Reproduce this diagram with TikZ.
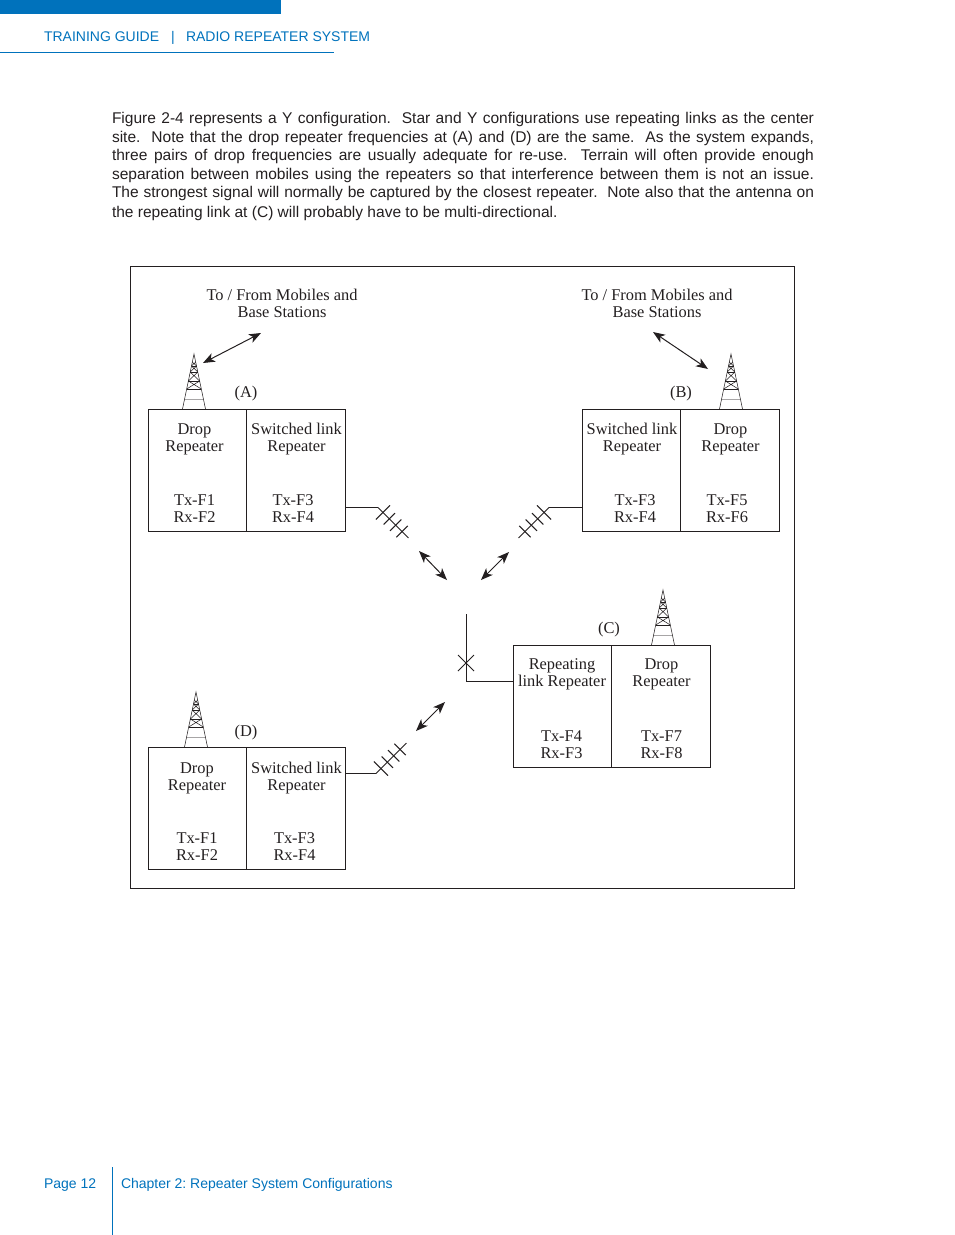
\documentclass[tikz,border=0pt]{standalone}
\usepackage{fontspec}
\setmainfont{Liberation Serif}
\newfontfamily\hsans{Liberation Sans}
\usetikzlibrary{arrows.meta}
\definecolor{ink}{HTML}{231F20}
\definecolor{brandblue}{HTML}{0072BC}
\frenchspacing
\tikzset{
  x=0.75pt,y=-0.75pt,
  every node/.style={inner sep=0pt,outer sep=0pt,text=ink},
  line/.style={draw=ink,line width=0.75pt},
  thinline/.style={draw=ink,line width=0.4pt},
  cellL/.style={line,rectangle,minimum width=73.1pt,minimum height=92pt},
  cellR/.style={line,rectangle,minimum width=74.6pt,minimum height=92pt},
  lbl/.style={font=\fontsize{12.3}{12.75}\selectfont,align=center},
  bodyline/.style={anchor=base west,font=\hsans\fontsize{11.65}{13}\selectfont},
  bluetext/.style={anchor=base west,text=brandblue,font=\hsans\fontsize{10.5}{13}\selectfont},
  dbl/.style={draw=ink,line width=0.75pt,{Stealth[length=9pt,width=7pt,inset=2.5pt]}-{Stealth[length=9pt,width=7pt,inset=2.5pt]}},
  tower/.pic={
    \draw[thinline] (-11.5,55) -- (0,0) -- (11.5,55);
    \draw[thinline] (-2.5,12) -- (2.5,12) (-3.8,18) -- (3.8,18) (-5.6,27) -- (5.6,27) (-7.3,35) -- (7.3,35);
    \draw[draw=ink!40,line width=0.6pt] (-9.4,45) -- (9.4,45);
    \draw[thinline] (-1.7,8) -- (2.5,12) (1.7,8) -- (-2.5,12) (-2.5,12) -- (3.8,18) (2.5,12) -- (-3.8,18) (-3.8,18) -- (5.6,27) (3.8,18) -- (-5.6,27) (-5.6,27) -- (7.3,35) (5.6,27) -- (-7.3,35);
  },
  yagi/.pic={
    \draw[line] (0,0) -- (43,0);
    \draw[line] (7,-10) -- (7,10);
    \foreach \t in {16,25,34} \draw[line] (\t,-8) -- (\t,8);
  },
}
\begin{document}
\begin{tikzpicture}
\useasboundingbox (0,0) rectangle (954,1235);
% page furniture
\fill[brandblue] (0,0) rectangle (281,14);
\draw[draw=brandblue,line width=0.75pt] (0,52.5) -- (334,52.5);
\draw[draw=brandblue,line width=0.75pt] (112.7,1167) -- (112.7,1235);
\node[bluetext] (h1) at (44,41) {TRAINING GUIDE};
\node[bluetext] (h2) at (171,41) {|};
\node[bluetext] (h3) at (186,41) {RADIO REPEATER SYSTEM};
\node[bluetext] (f1) at (44,1188) {Page 12};
\node[bluetext] (f2) at (121,1188) {Chapter 2: Repeater System Configurations};
% body text
\node[bodyline] (b1) at (112,123) {\makebox[526.5pt][s]{Figure 2-4 represents a Y configuration.\ \ Star and Y configurations use repeating links as the center}};
\node[bodyline] (b2) at (112,142) {\makebox[526.5pt][s]{site.\ \ Note that the drop repeater frequencies at (A) and (D) are the same.\ \ As the system expands,}};
\node[bodyline] (b3) at (112,160) {\makebox[526.5pt][s]{three pairs of drop frequencies are usually adequate for re-use.\ \ Terrain will often provide enough}};
\node[bodyline] (b4) at (112,179) {\makebox[526.5pt][s]{separation between mobiles using the repeaters so that interference between them is not an issue.}};
\node[bodyline] (b5) at (112,197.5) {\makebox[526.5pt][s]{The strongest signal will normally be captured by the closest repeater.\ \ Note also that the antenna on}};
\node[bodyline] (b6) at (112,217) {the repeating link at (C) will probably have to be multi-directional.};
% frame
\draw[line] (130.5,266.5) rectangle (794.5,888.5);
% boxes
\node[cellL] (A1) at (197.55,470.65) {};
\node[cellR] (A2) at (296.05,470.65) {};
\node[cellL] (B1) at (631.55,470.65) {};
\node[cellR] (B2) at (730.05,470.65) {};
\node[cellL] (C1) at (562.55,706.65) {};
\node[cellR] (C2) at (661.05,706.65) {};
\node[cellL] (D1) at (197.55,808.65) {};
\node[cellR] (D2) at (296.05,808.65) {};
% captions
\node[lbl] (t1) at (282,303.8) {To / From Mobiles and\\Base Stations};
\node[lbl] (t2) at (657,303.8) {To / From Mobiles and\\Base Stations};
\node[lbl] (la) at (246,393.7) {(A)};
\node[lbl] (lb) at (681,393.7) {(B)};
\node[lbl] (lc) at (609,629.7) {(C)};
\node[lbl] (ld) at (246,732.7) {(D)};
% A
\node[lbl] (a1) at (194.5,439.2) {Drop\\Repeater};
\node[lbl] (a2) at (296.5,439.2) {Switched link\\Repeater};
\node[lbl] (a3) at (194.5,508.5) {Tx-F1\\Rx-F2};
\node[lbl] (a4) at (293,508.5) {Tx-F3\\Rx-F4};
% B
\node[lbl] (b7) at (632,439.2) {Switched link\\Repeater};
\node[lbl] (b8) at (730.5,439.2) {Drop\\Repeater};
\node[lbl] (b9) at (635,508.5) {Tx-F3\\Rx-F4};
\node[lbl] (b10) at (727,508.5) {Tx-F5\\Rx-F6};
% C
\node[lbl] (c1) at (562,674.2) {Repeating\\link Repeater};
\node[lbl] (c2) at (661.5,674.2) {Drop\\Repeater};
\node[lbl] (c3) at (561.5,744.5) {Tx-F4\\Rx-F3};
\node[lbl] (c4) at (661.5,744.5) {Tx-F7\\Rx-F8};
% D
\node[lbl] (d1) at (197,778.2) {Drop\\Repeater};
\node[lbl] (d2) at (296.5,778.2) {Switched link\\Repeater};
\node[lbl] (d3) at (197,846.5) {Tx-F1\\Rx-F2};
\node[lbl] (d4) at (294.5,846.5) {Tx-F3\\Rx-F4};
% towers
\pic at (194,354) {tower};
\pic at (731,354) {tower};
\pic at (663,590) {tower};
\pic at (196,692) {tower};
% yagi antennas and feed lines
\coordinate (ya) at (378,507.5);
\coordinate (yb) at (549,507.5);
\coordinate (yd) at (376,773.5);
\draw[line] (A2.east |- ya) -- (ya);
\draw[line] (B1.west |- yb) -- (yb);
\draw[line] (D2.east |- yd) -- (yd);
\pic[rotate=-45] at (ya) {yagi};
\pic[rotate=-135] at (yb) {yagi};
\pic[rotate=45] at (yd) {yagi};
% repeating link antenna
\coordinate (ctop) at (466.5,614);
\coordinate (cx) at (466,663);
\coordinate (cbend) at (466.5,681.5);
\draw[line] (ctop) -- (cbend) -- (C1.west |- cbend);
\draw[line] (cx) ++(-8,-8) -- ++(16,16);
\draw[line] (cx) ++(8,-8) -- ++(-16,16);
% radio path arrows
\coordinate (p1) at (203,363); \coordinate (p2) at (261,333);
\coordinate (p3) at (653,332); \coordinate (p4) at (708,369);
\coordinate (p5) at (419,551); \coordinate (p6) at (447,580);
\coordinate (p7) at (509,552); \coordinate (p8) at (481,580);
\coordinate (p9) at (445,702); \coordinate (p10) at (416,731);
\draw[dbl] (p1) -- (p2);
\draw[dbl] (p3) -- (p4);
\draw[dbl] (p5) -- (p6);
\draw[dbl] (p7) -- (p8);
\draw[dbl] (p9) -- (p10);
\end{tikzpicture}
\end{document}
